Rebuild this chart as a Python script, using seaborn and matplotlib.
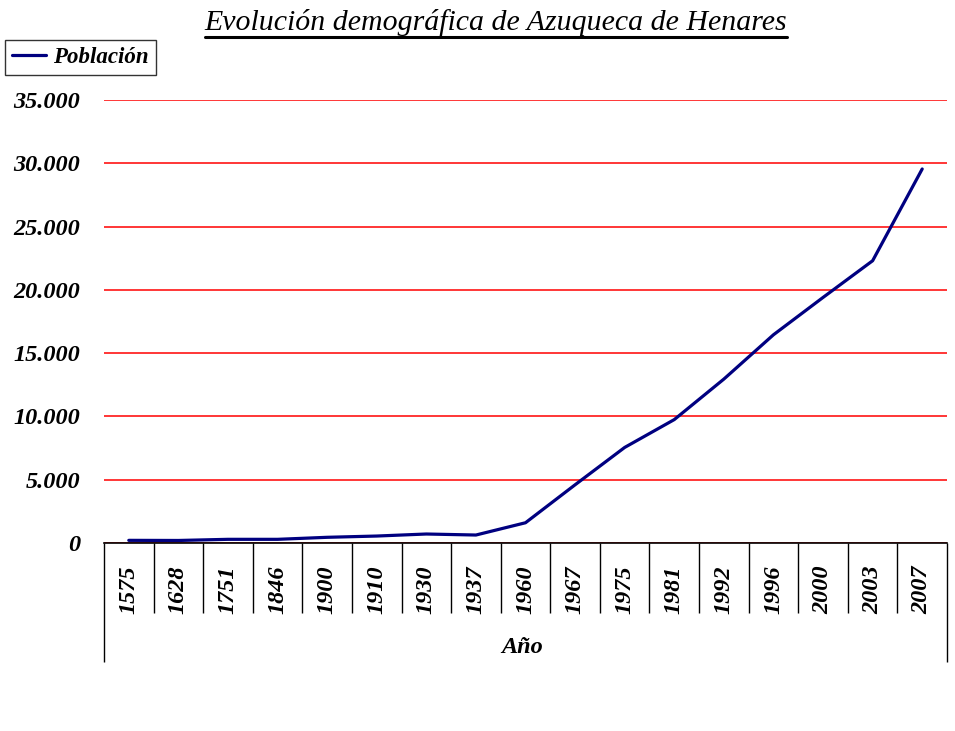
import numpy as np
import pandas as pd
import matplotlib.pyplot as plt
import matplotlib.lines as mlines
import seaborn as sns

# data
years = ['1575', '1628', '1751', '1846', '1900', '1910', '1930', '1937', '1960',
         '1967', '1975', '1981', '1992', '1996', '2000', '2003', '2007']
poblacion = [210, 200, 290, 290, 450, 550, 710, 630, 1600,
             4600, 7550, 9750, 12950, 16450, 19400, 22300, 29550]
yticks = [0, 5000, 10000, 15000, 20000, 25000, 30000, 35000]
ytick_labels = ['0', '5.000', '10.000', '15.000', '20.000', '25.000', '30.000', '35.000']

df = pd.DataFrame({'pos': np.arange(len(years)), 'Población': poblacion})

sns.set_style('white')
plt.rcParams['font.family'] = ['Liberation Serif', 'DejaVu Serif']
plt.rcParams['text.color'] = 'black'
plt.rcParams['xtick.color'] = 'black'
plt.rcParams['ytick.color'] = 'black'

fig = plt.figure(figsize=(9.55, 7.31), dpi=100)
ax = fig.add_axes([104 / 955, 1 - 543 / 731, 843 / 955, 443 / 731])

sns.lineplot(data=df, x='pos', y='Población', color='#000080', lw=2.3,
             ax=ax, label='Población')

ax.set_xlim(-0.5, len(years) - 0.5)
ax.set_ylim(0, 35000)
ax.set_yticks(yticks)
ax.set_yticklabels(ytick_labels, fontsize=17.5, fontweight='bold', fontstyle='italic')
ax.tick_params(axis='y', length=0, pad=17)
ax.set_axisbelow(True)
ax.yaxis.grid(True, color='red', lw=1.1)
ax.xaxis.grid(False)
for s in ['left', 'right', 'top']:
    ax.spines[s].set_visible(False)
ax.spines['bottom'].set_color('black')
ax.spines['bottom'].set_linewidth(1.2)

# category labels
ax.set_xticks(df['pos'])
ax.set_xticklabels(years, rotation=90, fontsize=17.5, fontweight='bold', fontstyle='italic')
ax.tick_params(axis='x', length=0, pad=16)
ax.set_xlabel('')
ax.set_ylabel('')

# category separators below axis
trans = ax.get_xaxis_transform()
edges = np.arange(len(years) + 1) - 0.5
ax.vlines(edges[1:-1], -70 / 443, 0, transform=trans, colors='black', lw=1, clip_on=False)
ax.vlines([edges[0], edges[-1]], -119 / 443, 0, transform=trans, colors='black', lw=1, clip_on=False)

ax.text(0.496, -0.237, 'Año', transform=ax.transAxes, ha='center', va='center',
        fontsize=17.5, fontweight='bold', fontstyle='italic')

leg = ax.legend(loc='upper left', bbox_to_anchor=(5 / 955, 1 - 40 / 731),
                bbox_transform=fig.transFigure, frameon=True, fancybox=False,
                handlelength=1.5, handletextpad=0.3, borderpad=0.3,
                borderaxespad=0, prop={'size': 16.5, 'weight': 'bold', 'style': 'italic'})
leg.get_frame().set_edgecolor('black')
leg.get_frame().set_linewidth(1)

title = fig.text(496 / 955, 1 - 22 / 731, 'Evolución demográfica de Azuqueca de Henares',
                 ha='center', va='center', fontsize=21.5, fontstyle='italic')

# underline the title
fig.canvas.draw()
bb = title.get_window_extent().transformed(fig.transFigure.inverted())
uy = 1 - 37 / 731
fig.add_artist(mlines.Line2D([bb.x0, bb.x1], [uy, uy], color='black', lw=2.2,
                             transform=fig.transFigure))

fig.savefig('out.png', dpi=100)
